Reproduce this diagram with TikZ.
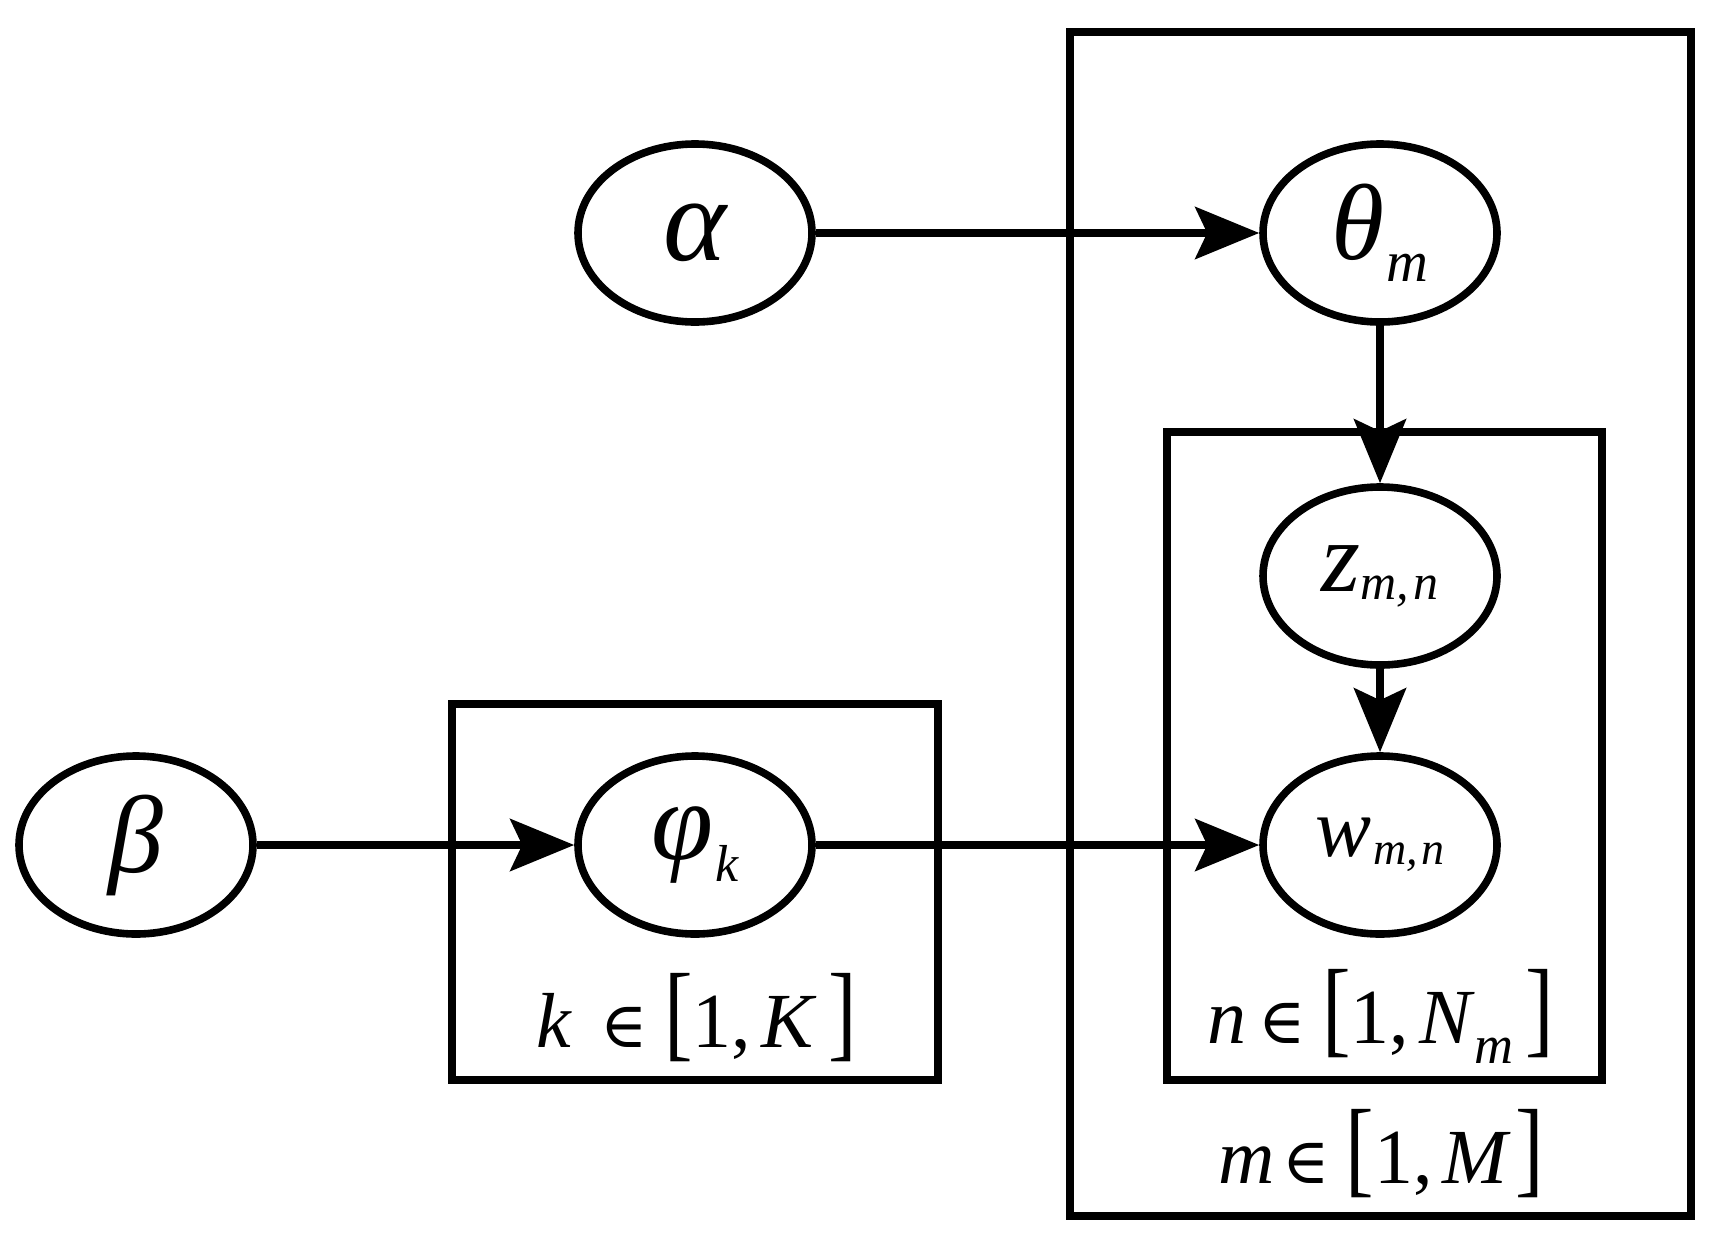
\documentclass[tikz,border=0pt]{standalone}
\usepackage{graphicx}
\usepackage{fontspec}
\setmainfont{Liberation Serif}
\newfontfamily\symfont{DejaVu Serif}
\usetikzlibrary{arrows.meta,shapes.geometric}
\newcommand{\nf}[1]{\fontsize{#1}{#1}\selectfont}
\newcommand{\lbr}{\scalebox{1.1}[1.37]{[}}
\newcommand{\rbr}{\scalebox{1.1}[1.37]{]}}
\newcommand{\elem}{{\symfont\fontsize{32}{32}\selectfont ∈}}
\tikzset{
  var/.style={draw, ellipse, line width=3.8pt, minimum width=117pt, minimum height=89pt, inner sep=0pt},
  plate/.style={draw, line width=3.8pt},
  arr/.style={line width=3.8pt, -{Stealth[length=32pt,width=26pt,inset=6pt]}},
  lbl/.style={anchor=base, inner sep=0pt, font=\nf{39}}
}
\begin{document}
\begin{tikzpicture}[x=0.5pt,y=-0.5pt]
\useasboundingbox (0,0) rectangle (1717,1237);
% plates
\draw[plate] (1070,32) rectangle (1691,1216);
\draw[plate] (1167,432) rectangle (1602,1080);
\draw[plate] (452,704) rectangle (938,1080);
% variables
\node[var] (alpha) at (695,233) {{\nf{60}\itshape α}};
\node[var] (theta) at (1380,233) {{\nf{54}\itshape θ}\hspace{1pt}\raisebox{-11pt}{\nf{29}\itshape m}};
\node[var] (z) at (1380,576) {{\nf{50}\itshape z}\raisebox{-4pt}{\nf{25}\itshape m,\hspace{2pt}n}};
\node[var] (w) at (1380,845) {{\nf{42}\itshape w}\hspace{1pt}\raisebox{-4pt}{\nf{23}\itshape m,\hspace{2pt}n}};
\node[var] (phi) at (695,845) {{\nf{56}\itshape φ}\hspace{1pt}\raisebox{-11pt}{\nf{26}\itshape k}};
\node[var] (beta) at (136,845) {{\nf{55}\itshape β}};
% plate labels
\node[lbl] (lk) at (697,1047) {\textit{k}\hspace{14pt}\elem\hspace{8pt}\lbr 1,\hspace{5pt}\textit{K}\hspace{6pt}\rbr};
\node[lbl] (ln) at (1381,1043) {\textit{n}\hspace{6pt}\elem\hspace{8pt}\lbr 1,\hspace{5pt}\textit{N}\raisebox{-10pt}{\nf{27}\itshape m}\hspace{6pt}\rbr};
\node[lbl] (lm) at (1381,1183) {\textit{m}\hspace{4pt}\elem\hspace{8pt}\lbr 1,\hspace{5pt}\textit{M}\hspace{2pt}\rbr};
% edges
\draw[arr] (alpha) -- (theta);
\draw[arr] (theta) -- (z);
\draw[arr] (z) -- (w);
\draw[arr] (beta) -- (phi);
\draw[arr] (phi) -- (w);
\end{tikzpicture}
\end{document}
